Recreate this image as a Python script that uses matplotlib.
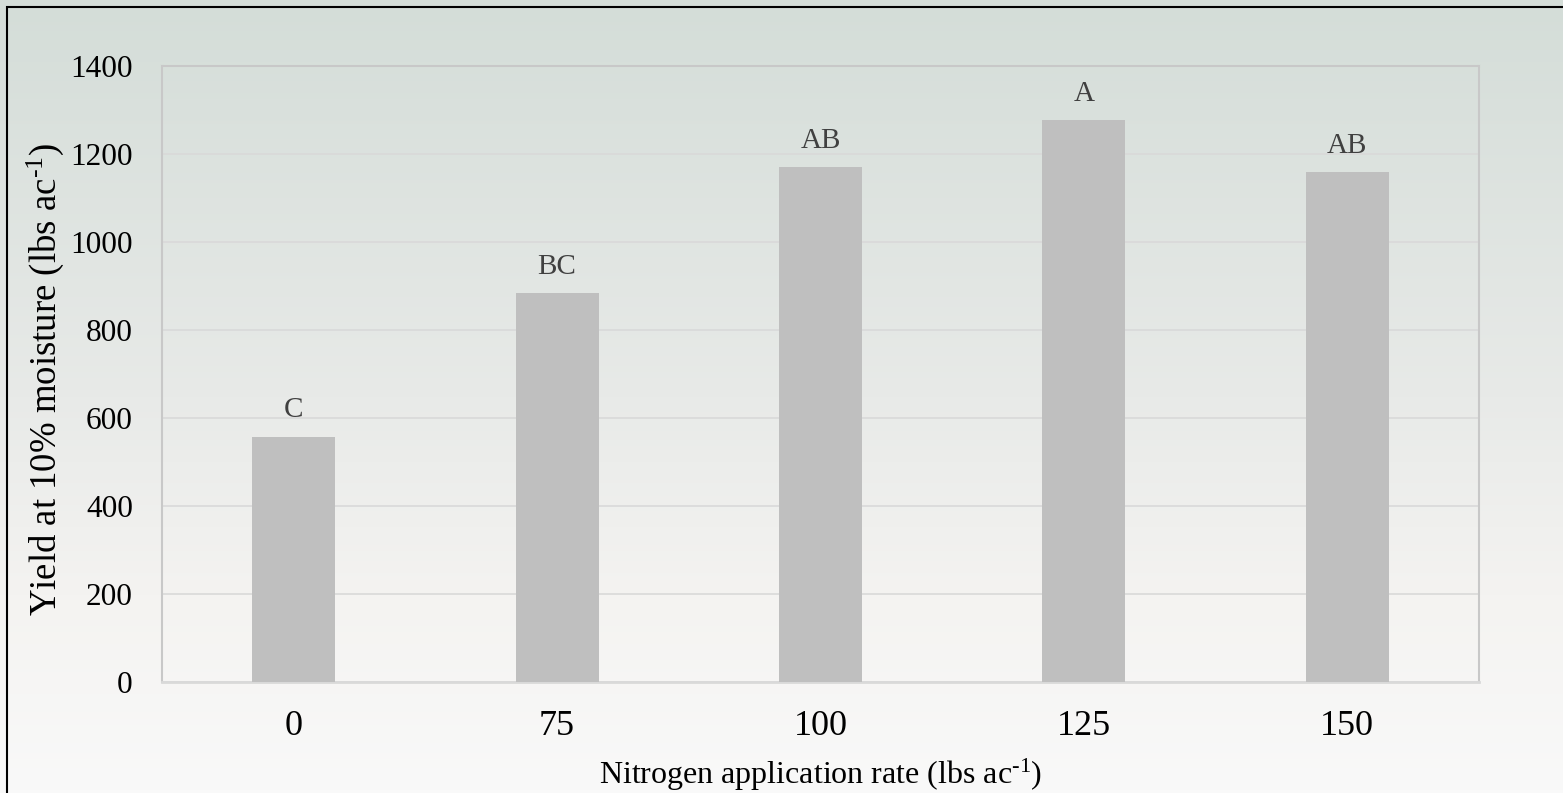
import numpy as np
import matplotlib.pyplot as plt
from matplotlib.patches import Rectangle
from matplotlib.colors import LinearSegmentedColormap

# dane z wykresu
rates = ["0", "75", "100", "125", "150"]
yields = [557, 884, 1170, 1277, 1159]
letters = ["C", "BC", "AB", "A", "AB"]

plt.rcParams['font.family'] = ['Liberation Serif', 'DejaVu Serif']
plt.rcParams['mathtext.fontset'] = 'custom'
plt.rcParams['mathtext.rm'] = 'Liberation Serif'
plt.rcParams['mathtext.it'] = 'Liberation Serif:italic'

W, H = 1563, 793
fig = plt.figure(figsize=(W / 100, H / 100), dpi=100)

# tlo - gradient
bg = fig.add_axes([0, 0, 1, 1], zorder=-10)
cmap = LinearSegmentedColormap.from_list(
    "bg", [(0.0, "#f9f9f9"), (0.25, "#f4f3f1"), (0.5, "#e8eae8"), (1.0, "#d4ddd8")])
grad = np.linspace(0, 1, 256).reshape(-1, 1)
bg.imshow(grad, aspect='auto', cmap=cmap, origin='lower', extent=[0, 1, 0, 1])
# ramka - widoczna tylko z lewej i u gory
bg.add_patch(Rectangle((7 / W, -0.1), 1.2, 1.1 - 7 / H, fill=False,
                       edgecolor='black', linewidth=1.5, transform=bg.transAxes))
bg.set_xlim(0, 1)
bg.set_ylim(0, 1)
bg.axis('off')

left, right, top, bottom = 162, 1479, 66, 682
ax = fig.add_axes([left / W, 1 - bottom / H, (right - left) / W, (bottom - top) / H])
ax.patch.set_alpha(0)

x = np.arange(len(rates))
ax.bar(x, yields, width=0.315, color='#bfbfbf', zorder=3)
for xi, yi, lab in zip(x, yields, letters):
    ax.annotate(lab, (xi, yi), xytext=(0, 14), textcoords='offset points',
                ha='center', va='baseline', fontsize=21, color='#404040')

ax.set_xlim(-0.5, len(rates) - 0.5)
ax.set_ylim(0, 1400)
ax.set_yticks(np.arange(0, 1401, 200))
ax.set_xticks(x)
ax.set_xticklabels(rates)
ax.tick_params(axis='both', length=0)
ax.tick_params(axis='x', pad=20, labelsize=26)
ax.tick_params(axis='y', pad=21, labelsize=22.5)
ax.grid(axis='y', color='#d9d9d9', linewidth=1.2, zorder=0)
for s in ax.spines.values():
    s.set_color('#c8c8c8')
    s.set_linewidth(1.5)
ax.spines['bottom'].set_color('#d9d9d9')
ax.spines['bottom'].set_linewidth(2)

ax.set_xlabel(r"Nitrogen application rate (lbs ac$^{\text{-1}}$)", fontsize=23)
ax.xaxis.set_label_coords(0.5, -(775 - bottom) / (bottom - top), transform=ax.transAxes)
ax.xaxis.label.set_va('center')
ax.set_ylabel(r"Yield at 10% moisture (lbs ac$^{\text{-1}}$)", fontsize=26.5)
ax.yaxis.set_label_coords(-(left - 45) / (right - left), (bottom - 379) / (bottom - top))
ax.yaxis.label.set_va('center')

fig.savefig("out.png", dpi=100)
